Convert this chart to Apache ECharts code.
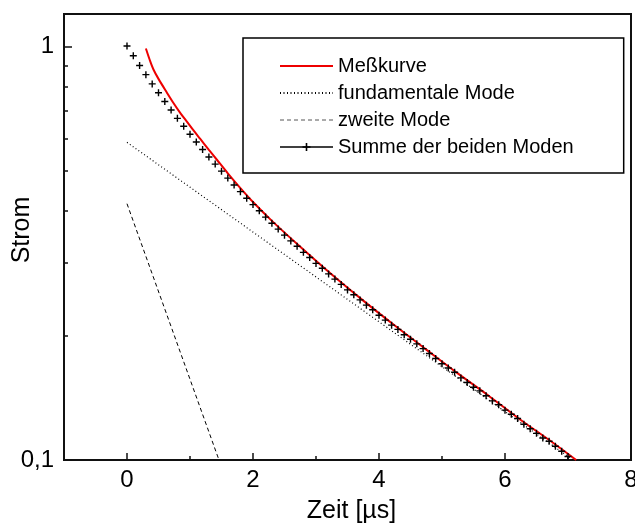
<!DOCTYPE html>
<html><head><meta charset="utf-8">
<script src="https://cdn.jsdelivr.net/npm/echarts@6/dist/echarts.min.js"></script>
<style>html,body{margin:0;padding:0;background:#fff}#c{width:635px;height:523px}</style>
</head><body><div id="c"></div>
<script>
const seriesNames = ['Meßkurve', 'fundamentale Mode', 'zweite Mode', 'Summe der beiden Moden'];
const xMajorTicks = [0, 2, 4, 6, 8];
const xMinorTicks = [1, 3, 5, 7];
const yMajorTicks = [0.1, 1];
const yMinorTicks = [0.2, 0.3, 0.4, 0.5, 0.6, 0.7, 0.8, 0.9];

// Meßkurve (time µs, current)
const messkurve = [[0.30,0.99],[0.36,0.930],[0.42,0.881],[0.50,0.836],[0.63,0.776],[0.74,0.730],[0.85,0.690],[0.95,0.659],[1.05,0.629],[1.16,0.599],[1.30,0.563],[1.43,0.532],[1.60,0.494],[1.80,0.455],[2.00,0.421],[2.30,0.379],[2.75,0.328],[3.25,0.281],[3.75,0.243],[4.25,0.2115],[4.75,0.185],[5.25,0.162],[5.75,0.1427],[6.25,0.125],[6.75,0.1104],[7.13,0.100]];
// fundamentale Mode (straight line on log scale)
const fundamental = [[0, 0.587], [7.08, 0.1]];
// zweite Mode
const zweite = [[0, 0.417], [1.46, 0.1]];
// Summe der beiden Moden: sample times and values
const sumTimes = [0,0.1,0.2,0.3,0.4,0.5,0.6,0.7,0.8,0.9,1.0,1.1,1.2,1.3,1.4,1.5,1.6,1.7,1.8,1.9,2.0,2.1,2.2,2.3,2.4,2.5,2.6,2.7,2.8,2.9,3.0,3.1,3.2,3.3,3.4,3.5,3.6,3.7,3.8,3.9,4.0,4.1,4.2,4.3,4.4,4.5,4.6,4.7,4.8,4.9,5.0,5.1,5.2,5.3,5.4,5.5,5.6,5.7,5.8,5.9,6.0,6.1,6.2,6.3,6.4,6.5,6.6,6.7,6.8,6.9,7.0];
const sumValues = [1.004,0.951,0.901,0.856,0.813,0.774,0.737,0.703,0.671,0.642,0.614,0.588,0.564,0.541,0.520,0.500,0.481,0.463,0.446,0.430,0.415,0.401,0.387,0.374,0.362,0.350,0.339,0.329,0.318,0.309,0.299,0.291,0.282,0.274,0.266,0.258,0.251,0.244,0.237,0.231,0.224,0.218,0.212,0.207,0.201,0.196,0.191,0.186,0.181,0.176,0.171,0.167,0.163,0.158,0.154,0.150,0.147,0.143,0.139,0.136,0.132,0.129,0.126,0.122,0.119,0.116,0.113,0.111,0.108,0.105,0.102];

const FONT = '"Liberation Sans", Arial, sans-serif';
const chart = echarts.init(document.getElementById('c'), null, {renderer: 'canvas'});
const plus = 'path://M4,0H6V4H10V6H6V10H4V6H0V4H4Z';
const hideSym = {opacity: 0};

chart.setOption({
  animation: false,
  backgroundColor: '#fff',
  textStyle: {fontFamily: FONT, color: '#000'},
  grid: {left: 64, right: 4, top: 14, bottom: 63, show: true, borderColor: '#111', borderWidth: 2,
    backgroundColor: 'transparent', containLabel: false, outerBoundsMode: 'none'},
  legend: {
    orient: 'vertical', left: 243, top: 38,
    padding: [18, 50, 16, 36],
    borderColor: '#000', borderWidth: 1.5,
    itemWidth: 53, itemHeight: 10, itemGap: 7,
    textStyle: {fontSize: 20, fontFamily: FONT, color: '#000'},
    data: [
      {name: seriesNames[0], itemStyle: hideSym},
      {name: seriesNames[1], itemStyle: hideSym},
      {name: seriesNames[2], itemStyle: hideSym, lineStyle: {color: '#555', width: 1}},
      {name: seriesNames[3], lineStyle: {opacity: 1, width: 1.6, color: '#000', type: 'solid'}}
    ]
  },
  xAxis: [{
    type: 'value', min: -1, max: 8, position: 'bottom',
    name: 'Zeit [µs]', nameLocation: 'middle', nameGap: 39, nameMoveOverlap: false,
    nameTextStyle: {fontSize: 25, fontFamily: FONT, color: '#000', padding: [0, 0, 0, 8]},
    axisLine: {show: true, onZero: false, lineStyle: {color: '#111', width: 2}},
    axisTick: {show: true, inside: true, length: 7, lineStyle: {color: '#111', width: 1.5}, customValues: xMajorTicks},
    axisLabel: {fontSize: 24, color: '#000', margin: 8, customValues: xMajorTicks, fontFamily: FONT},
    splitLine: {show: false}
  }, {
    type: 'value', min: -1, max: 8, position: 'bottom',
    axisLine: {show: false, onZero: false},
    axisTick: {show: true, inside: true, length: 4, lineStyle: {color: '#111', width: 1.5}, customValues: xMinorTicks},
    axisLabel: {show: false},
    splitLine: {show: false}
  }],
  yAxis: [{
    type: 'log', logBase: 10, min: 0.1, max: 1.2, position: 'left',
    name: 'Strom', nameLocation: 'middle', nameGap: 29, nameMoveOverlap: false,
    nameTextStyle: {fontSize: 25, fontFamily: FONT, color: '#000', padding: [0, 0, 0, 14]},
    axisLine: {show: true, onZero: false, lineStyle: {color: '#111', width: 2}},
    axisTick: {show: true, inside: true, length: 8, lineStyle: {color: '#111', width: 1.5}, customValues: yMajorTicks},
    axisLabel: {fontSize: 24, color: '#000', margin: 10, customValues: yMajorTicks, fontFamily: FONT,
      formatter: v => String(v).replace('.', ',')},
    splitLine: {show: false}
  }, {
    type: 'log', logBase: 10, min: 0.1, max: 1.2, position: 'left',
    axisLine: {show: false, onZero: false},
    axisTick: {show: true, inside: true, length: 4, lineStyle: {color: '#111', width: 1.5}, customValues: yMinorTicks},
    axisLabel: {show: false},
    splitLine: {show: false}
  }],
  series: [
    {name: seriesNames[0], type: 'line', data: messkurve, symbol: 'none', smooth: 0.3,
      lineStyle: {color: '#ee0000', width: 2}, itemStyle: {color: '#ee0000'}, z: 3},
    {name: seriesNames[1], type: 'line', data: fundamental, symbol: 'none',
      lineStyle: {color: '#000', width: 1.2, type: [1, 2.5]}, itemStyle: {color: '#000'}, z: 2},
    {name: seriesNames[2], type: 'line', data: zweite, symbol: 'none',
      lineStyle: {color: '#000', width: 1, type: [4, 3]}, itemStyle: {color: '#000'}, z: 2},
    {name: seriesNames[3], type: 'line', data: sumTimes.map((t, i) => [t, sumValues[i]]),
      symbol: plus, symbolSize: 7, showSymbol: true,
      lineStyle: {width: 0, opacity: 0}, itemStyle: {color: '#000'}, z: 4}
  ]
});
</script>
</body></html>
